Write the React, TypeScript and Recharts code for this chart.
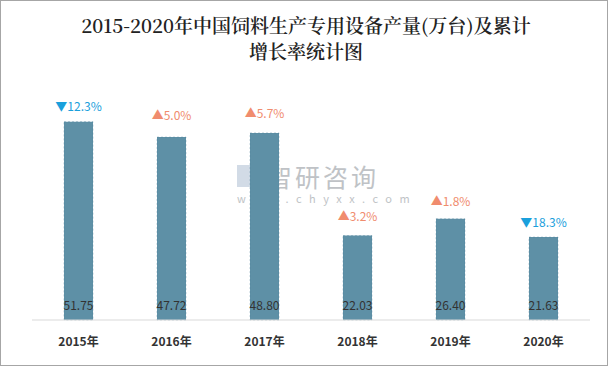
import React from "react";
import { BarChart, Bar, XAxis, YAxis, LabelList } from "recharts";

const categories = ["2015年", "2016年", "2017年", "2018年", "2019年", "2020年"];
const output = [51.75, 47.72, 48.8, 22.03, 26.4, 21.63];
const growth = [12.3, 5.0, 5.7, 3.2, 1.8, 18.3];
const direction = ["down", "up", "up", "up", "up", "down"];
const labelGap = [14, 20, 18, 18, 16, 13];

const data = categories.map((c, i) => ({
  name: c,
  value: output[i],
  growth: growth[i],
}));

const UP = "#F08C6E";
const DOWN = "#1AA0DC";
const FONT = "'Noto Sans CJK SC', 'Noto Sans', sans-serif";

const ValueLabel = (props: any) => {
  const { x, y, width, height, index } = props;
  return (
    <text
      x={x + width / 2}
      y={y + height - 13}
      textAnchor="middle"
      dominantBaseline="middle"
      fontSize={12}
      fill="#333"
      fontFamily={FONT}
    >
      {output[index].toFixed(2)}
    </text>
  );
};

const GrowthLabel = (props: any) => {
  const { x, y, width, index } = props;
  const up = direction[index] === "up";
  const color = up ? UP : DOWN;
  return (
    <text
      x={x + width / 2}
      y={y - labelGap[index]}
      textAnchor="middle"
      dominantBaseline="middle"
      fontSize={12}
      fill={color}
      fontFamily={FONT}
    >
      {(up ? "▲" : "▼") + growth[index].toFixed(1) + "%"}
    </text>
  );
};

export default function App() {
  return (
    <div
      style={{
        position: "absolute",
        left: 0,
        top: 0,
        width: 612,
        height: 368,
        background: "#fff",
      }}
    >
      <div
        style={{
          position: "absolute",
          left: 0,
          top: 0,
          width: 606,
          height: 364,
          border: "1px solid #a6a6a6",
        }}
      />
      <div
        style={{
          position: "absolute",
          left: 0,
          top: 12,
          width: 612,
          textAlign: "center",
          fontFamily: "'Noto Serif CJK SC', 'DejaVu Serif', serif",
          fontSize: 19,
          lineHeight: "26px",
          color: "#222",
          fontWeight: 600,
        }}
      >
        <div>2015-2020年中国饲料生产专用设备产量(万台)及累计</div>
        <div>增长率统计图</div>
      </div>
      <div
        style={{
          position: "absolute",
          left: 237,
          top: 163,
          fontFamily: FONT,
          color: "#b0b4b8",
          opacity: 0.8,
        }}
      >
        <div style={{ display: "flex", alignItems: "center", height: 26 }}>
          <div
            style={{
              width: 22,
              height: 22,
              background: "#c8d3e0",
              marginRight: 8,
            }}
          />
          <span style={{ fontSize: 25, letterSpacing: 3, lineHeight: "26px" }}>
            智研咨询
          </span>
        </div>
        <div style={{ fontSize: 11, letterSpacing: 7.5, marginTop: 3, lineHeight: "12px" }}>
          www.chyxx.com
        </div>
      </div>
      <div style={{ position: "absolute", left: 0, top: 0 }}>
        <BarChart
          width={612}
          height={368}
          data={data}
          margin={{ top: 90, right: 22, bottom: 18, left: 32 }}
        >
          <XAxis
            dataKey="name"
            axisLine={{ stroke: "#d9d9d9" }}
            tickLine={false}
            tick={{ fontSize: 12, fontWeight: 700, fill: "#333", fontFamily: FONT }}
            tickMargin={11}
          />
          <YAxis hide domain={[0, 60]} />
          <Bar
            dataKey="value"
            fill="#5E90A6"
            barSize={29}
            stroke="#4d7f96"
            strokeOpacity={0.6}
            strokeDasharray="2 2"
            strokeWidth={0.6}
            isAnimationActive={false}
          >
            <LabelList dataKey="value" content={ValueLabel} />
            <LabelList dataKey="growth" content={GrowthLabel} />
          </Bar>
        </BarChart>
      </div>
    </div>
  );
}
